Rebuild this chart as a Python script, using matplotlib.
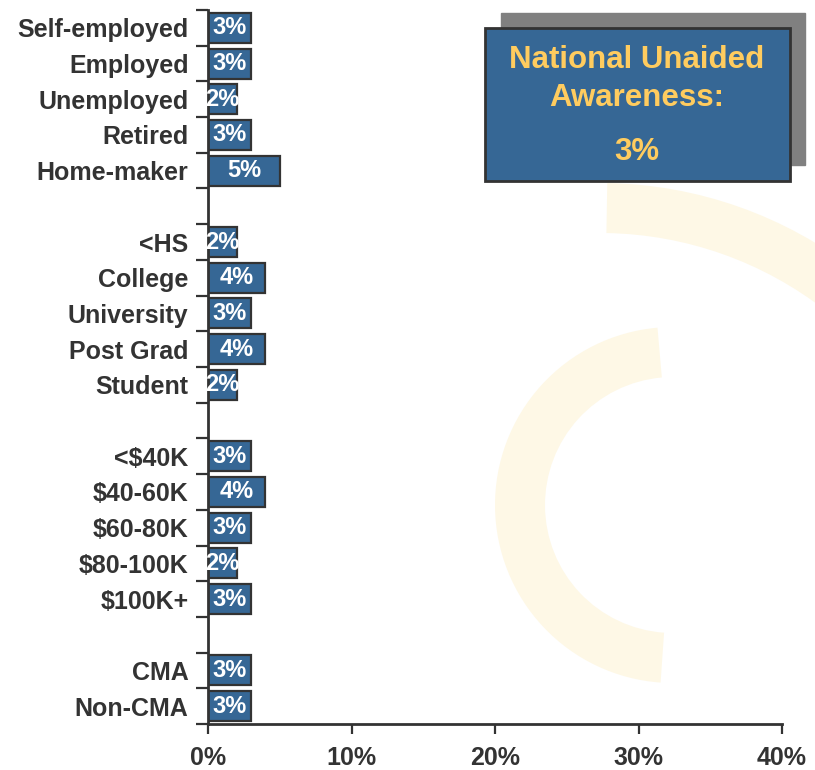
import matplotlib.pyplot as plt
from matplotlib.patches import Rectangle, Wedge
import numpy as np

# Chart data
categories = ["Self-employed", "Employed", "Unemployed", "Retired", "Home-maker",
              "<HS", "College", "University", "Post Grad", "Student",
              "<$40K", "$40-60K", "$60-80K", "$80-100K", "$100K+",
              "CMA", "Non-CMA"]
values = [3, 3, 2, 3, 5,
          2, 4, 3, 4, 2,
          3, 4, 3, 2, 3,
          3, 3]
group_sizes = [5, 5, 5, 2]
national_awareness = 3
x_ticks = [0, 10, 20, 30, 40]

BAR_BLUE = "#366795"
EDGE = "#333333"
TEXT = "#333333"
GOLD = "#FFCC5F"
WATERMARK = "#FEF8E6"

plt.rcParams["font.family"] = ["Liberation Sans", "DejaVu Sans"]
plt.rcParams["font.weight"] = "bold"

fig = plt.figure(figsize=(8.15, 7.7), dpi=100)
W, H = 815, 770

# faint watermark arcs in the background (pixel coords, y up)
bg = fig.add_axes([0, 0, 1, 1], zorder=0)
bg.set_xlim(0, W)
bg.set_ylim(0, H)
bg.axis("off")
bg.add_patch(Wedge((673, 265), 178, 95, 266, width=50, color=WATERMARK, lw=0))
bg.add_patch(Wedge((600, 170), 417, 15, 89, width=50, color=WATERMARK, lw=0))

# slot positions: groups separated by one empty slot
positions = []
pos = 0
for size in group_sizes:
    positions.extend(range(pos, pos + size))
    pos += size + 1
n_slots = pos - 1

ax = fig.add_axes([208 / W, 46 / H, 574 / W, 714 / H], zorder=1)
ax.patch.set_alpha(0)
ax.barh(positions, values, height=0.84, color=BAR_BLUE, edgecolor=EDGE, linewidth=1.6)
for p, v in zip(positions, values):
    ax.text(v / 2, p, f"{v}%", ha="center", va="center", color="white",
            fontsize=17, fontweight="bold")

ax.set_ylim(n_slots - 0.5, -0.5)
ax.set_xlim(0, 40)
ax.set_yticks(positions)
ax.set_yticklabels(categories, fontsize=18, fontweight="bold", color=TEXT)
ax.tick_params(axis="y", which="major", length=0, pad=14)
ax.set_yticks(np.arange(-0.5, n_slots, 1), minor=True)
ax.tick_params(axis="y", which="minor", length=9, width=1.6, color=EDGE)

ax.set_xticks(x_ticks)
ax.set_xticklabels([f"{t}%" for t in x_ticks], fontsize=18, fontweight="bold",
                   color=TEXT, family=["Liberation Sans Narrow", "Liberation Sans"])
ax.tick_params(axis="x", length=7, width=1.6, color=EDGE, direction="out", pad=9)

for side in ["top", "right"]:
    ax.spines[side].set_visible(False)
for side in ["left", "bottom"]:
    ax.spines[side].set_color(EDGE)
    ax.spines[side].set_linewidth(2)

# callout box with national figure
fig.add_artist(Rectangle((501 / W, 1 - 165 / H), 304 / W, 152 / H,
                         transform=fig.transFigure, color="#808080", zorder=2))
fig.add_artist(Rectangle((485 / W, 1 - 181 / H), 305 / W, 153 / H,
                         transform=fig.transFigure, facecolor=BAR_BLUE,
                         edgecolor=EDGE, linewidth=2, zorder=3))
cx = 637 / W
fig.text(cx, 1 - 60 / H, "National Unaided", ha="center", va="center",
         color=GOLD, fontsize=22.5, fontweight="bold", zorder=4)
fig.text(cx, 1 - 98 / H, "Awareness:", ha="center", va="center",
         color=GOLD, fontsize=22.5, fontweight="bold", zorder=4)
fig.text(cx, 1 - 152 / H, f"{national_awareness}%", ha="center", va="center",
         color=GOLD, fontsize=22.5, fontweight="bold", zorder=4)

fig.savefig("out.png", dpi=100)
